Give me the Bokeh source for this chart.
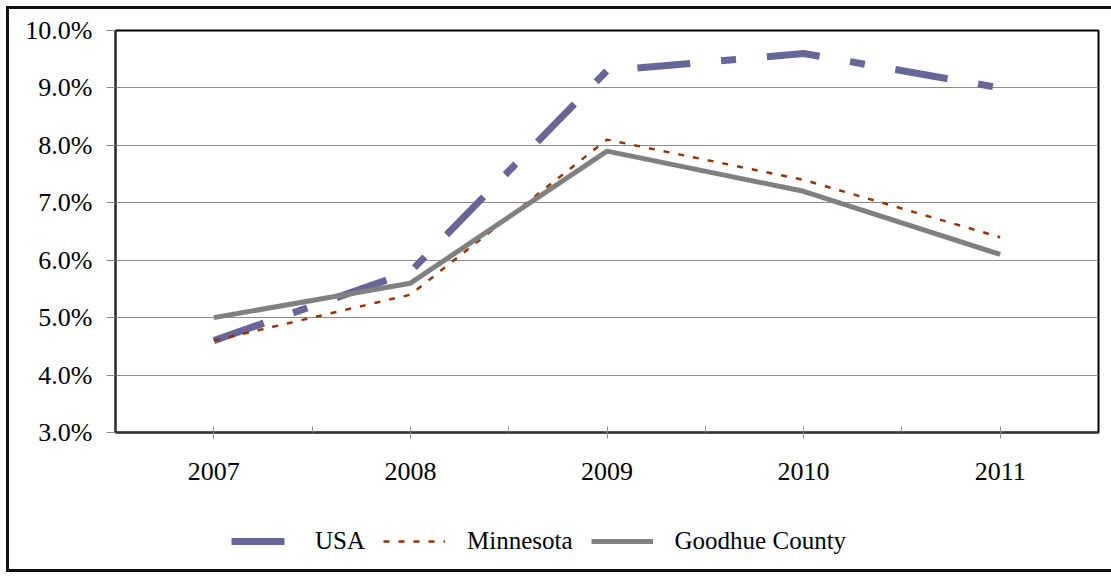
from bokeh.plotting import figure
from bokeh.layouts import column
from bokeh.models import (Range1d, FixedTicker, NumeralTickFormatter, Legend, LegendItem,
                          ColumnDataSource)
from bokeh.embed import file_html
from bokeh.resources import INLINE

years = ["2007", "2008", "2009", "2010", "2011"]
usa = [0.046, 0.058, 0.093, 0.096, 0.090]
minnesota = [0.046, 0.054, 0.081, 0.074, 0.064]
goodhue = [0.050, 0.056, 0.079, 0.072, 0.061]
y_ticks = [0.03, 0.04, 0.05, 0.06, 0.07, 0.08, 0.09, 0.10]
series_names = ["USA", "Minnesota", "Goodhue County"]

xpos = [i + 0.5 for i in range(len(years))]
FONT = "Liberation Serif"

USA_STYLE = dict(line_color="#666699", line_width=7, line_dash="53 31 15 31", line_cap="butt")
MN_STYLE = dict(line_color="#993300", line_width=2.5, line_dash="6 9", line_cap="butt")
GH_STYLE = dict(line_color="#808080", line_width=5)

p = figure(width=1102, height=483, output_backend="svg", toolbar_location=None,
           x_range=Range1d(0, len(years)), y_range=Range1d(y_ticks[0], y_ticks[-1]),
           min_border_left=106, min_border_right=13, min_border_top=21, min_border_bottom=60)

src = ColumnDataSource(dict(x=xpos, usa=usa, mn=minnesota, gh=goodhue))
p.line("x", "usa", source=src, **USA_STYLE)
p.line("x", "mn", source=src, **MN_STYLE)
p.line("x", "gh", source=src, **GH_STYLE)

p.outline_line_color = "black"
p.outline_line_width = 2
p.background_fill_color = "white"
p.border_fill_color = "white"

p.xgrid.grid_line_color = None
p.ygrid.grid_line_color = "#8c8c8c"
p.ygrid.grid_line_width = 1
p.ygrid.ticker = FixedTicker(ticks=y_ticks)

p.yaxis.ticker = FixedTicker(ticks=y_ticks)
p.yaxis.formatter = NumeralTickFormatter(format="0.0%")
p.yaxis.axis_line_color = "#333333"
p.yaxis.axis_line_width = 2
p.yaxis.major_tick_out = 9
p.yaxis.major_tick_in = 0
p.yaxis.major_tick_line_color = "#8c8c8c"
p.yaxis.minor_tick_line_color = None
p.yaxis.major_label_standoff = 14
p.yaxis.major_label_text_font = FONT
p.yaxis.major_label_text_font_size = "26px"
p.yaxis.major_label_text_color = "black"

p.xaxis.ticker = FixedTicker(ticks=xpos, minor_ticks=list(range(1, len(years))))
p.xaxis.major_label_overrides = {x: y for x, y in zip(xpos, years)}
p.xaxis.axis_line_color = "#333333"
p.xaxis.axis_line_width = 2
p.xaxis.major_tick_in = 6
p.xaxis.major_tick_out = 6
p.xaxis.major_tick_line_color = "#8c8c8c"
p.xaxis.minor_tick_in = 6
p.xaxis.minor_tick_out = 0
p.xaxis.minor_tick_line_color = "#8c8c8c"
p.xaxis.major_label_standoff = 24
p.xaxis.major_label_text_font = FONT
p.xaxis.major_label_text_font_size = "26px"
p.xaxis.major_label_text_color = "black"

# legend strip below the chart (its series lines lie outside its view; only the legend shows)
p2 = figure(width=1102, height=77, output_backend="svg", toolbar_location=None,
            x_range=Range1d(0, len(years)), y_range=Range1d(1, 2),
            x_axis_location=None, y_axis_location=None,
            min_border_left=0, min_border_right=0, min_border_top=0, min_border_bottom=0)
p2.grid.grid_line_color = None
p2.outline_line_color = None
p2.background_fill_color = "white"
p2.border_fill_color = "white"
k_usa = p2.line("x", "usa", source=src, **USA_STYLE)
k_mn = p2.line("x", "mn", source=src, **MN_STYLE)
k_gh = p2.line("x", "gh", source=src, **GH_STYLE)

legend = Legend(items=[LegendItem(label=n, renderers=[r])
                       for n, r in zip(series_names, [k_usa, k_mn, k_gh])],
                orientation="horizontal", location=(116, 14),
                glyph_width=62, glyph_height=20, label_standoff=22, spacing=18,
                padding=0, margin=0, border_line_color=None, background_fill_alpha=0,
                label_text_font=FONT, label_text_font_size="25px", label_text_color="black")
p2.add_layout(legend, "center")

lay = column(p, p2, spacing=0)
lay.styles = {"margin-left": "6px", "margin-top": "6px",
              "border-top": "3px solid #111", "border-left": "3px solid #111",
              "border-bottom": "3px solid #111"}

open("out.html", "w").write(file_html(lay, INLINE))
